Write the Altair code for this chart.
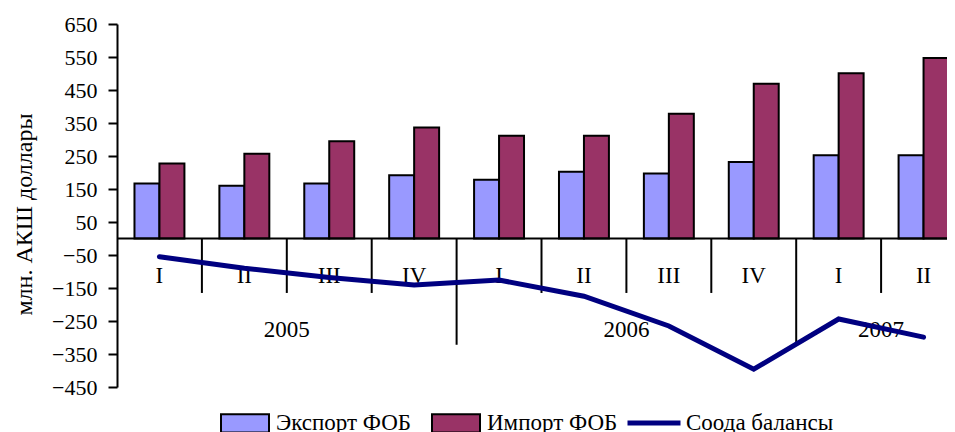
import altair as alt
import pandas as pd

# ---- data ----
quarters = ["I", "II", "III", "IV", "I", "II", "III", "IV", "I", "II"]
years = ["2005", "2005", "2005", "2005", "2006", "2006", "2006", "2006", "2007", "2007"]
export_fob = [167, 160, 167, 192, 178, 202, 197, 232, 252, 252]
import_fob = [227, 257, 295, 336, 311, 311, 378, 469, 501, 547]
balance = [-55, -90, -118, -141, -126, -175, -265, -396, -244, -299]
y_ticks = [-450, -350, -250, -150, -50, 50, 150, 250, 350, 450, 550, 650]
series_names = ["Экспорт ФОБ", "Импорт ФОБ"]
line_name = "Соода балансы"
year_labels = ["2005", "2006", "2007"]
year_anchor_idx = [2, 6, 9]          # label centred on the left edge of this quarter
short_div_idx = [1, 2, 3, 5, 6, 7, 9]
long_div_idx = [4, 8]

FONT = "Liberation Serif"
keys = [f"{y}-{q}-{i}" for i, (y, q) in enumerate(zip(years, quarters))]

bars_df = pd.DataFrame(
    [{"key": k, "series": series_names[0], "value": v} for k, v in zip(keys, export_fob)]
    + [{"key": k, "series": series_names[1], "value": v} for k, v in zip(keys, import_fob)]
)
line_df = pd.DataFrame({"key": keys, "value": balance, "series": [line_name] * len(keys)})
qlab_df = pd.DataFrame({"key": keys, "label": quarters, "value": [-114] * len(keys)})
ylab_df = pd.DataFrame({"key": [keys[i] for i in year_anchor_idx], "label": year_labels,
                        "value": [-276] * len(year_labels)})
div_df = pd.DataFrame(
    [{"key": keys[i], "value": 0, "bottom": -165} for i in short_div_idx]
    + [{"key": keys[i], "value": 0, "bottom": -322} for i in long_div_idx]
)
zero_df = pd.DataFrame({"value": [0]})

x_scale = alt.Scale(domain=keys, range=[0, 849], paddingInner=0, paddingOuter=0)
y_scale = alt.Scale(domain=[-450, 650], nice=False, zero=False)
y_axis = alt.Axis(
    values=y_ticks, grid=False, title="млн. АКШ доллары",
    labelFont=FONT, labelFontSize=22, labelColor="black", labelPadding=11,
    tickSize=9, tickWidth=2, tickColor="black", domainColor="black", domainWidth=2,
    titleFont=FONT, titleFontSize=24, titleFontWeight="normal", titleColor="black",
    titleX=-93, titleY=190, titleAngle=270, titleAlign="center", titleBaseline="middle",
)


def xk(**kw):
    return alt.X("key:N", sort=keys, scale=x_scale, axis=None, **kw)


def yv():
    return alt.Y("value:Q", scale=y_scale, axis=y_axis)


bars = alt.Chart(bars_df).mark_bar(stroke="black", strokeWidth=2).encode(
    x=xk(),
    xOffset=alt.XOffset("series:N", sort=series_names,
                        scale=alt.Scale(domain=series_names, paddingInner=0, paddingOuter=0.7)),
    y=yv(),
    fill=alt.Fill(
        "series:N",
        scale=alt.Scale(domain=series_names, range=["#9999FF", "#993366"]),
        legend=alt.Legend(
            title=None, orient="none", legendX=103, legendY=374, direction="horizontal",
            symbolType="M-1,-0.38L1,-0.38L1,0.38L-1,0.38Z", symbolSize=2304,
            symbolStrokeColor="black", symbolStrokeWidth=2, symbolOpacity=1,
            labelFont=FONT, labelFontSize=23, labelColor="black", labelOffset=6,
            columnPadding=16, padding=0, labelLimit=400,
        ),
    ),
)

zero_rule = alt.Chart(zero_df).mark_rule(color="black", strokeWidth=2).encode(y=yv())

dividers = alt.Chart(div_df).mark_rule(color="black", strokeWidth=2).encode(
    x=xk(bandPosition=0),
    y=yv(),
    y2=alt.Y2("bottom:Q"),
)

qlabels = alt.Chart(qlab_df).mark_text(
    font=FONT, fontSize=23, color="black", align="center", baseline="middle"
).encode(x=xk(), y=yv(), text="label:N")

ylabels = alt.Chart(ylab_df).mark_text(
    font=FONT, fontSize=23, color="black", align="center", baseline="middle"
).encode(x=xk(bandPosition=0), y=yv(), text="label:N")

line = alt.Chart(line_df).mark_line(strokeWidth=5, strokeCap="round").encode(
    x=xk(),
    y=yv(),
    stroke=alt.Stroke(
        "series:N",
        scale=alt.Scale(domain=[line_name], range=["#000080"]),
        legend=alt.Legend(
            title=None, orient="none", legendX=508, legendY=370, direction="horizontal",
            symbolType="stroke", symbolSize=2809, symbolStrokeWidth=5,
            labelFont=FONT, labelFontSize=23, labelColor="black", labelOffset=3,
            padding=0, labelLimit=400,
        ),
    ),
)

chart = (
    alt.layer(bars, zero_rule, dividers, qlabels, ylabels, line)
    .resolve_scale(fill="independent", stroke="independent")
    .properties(
        width=830, height=363,
        autosize=alt.AutoSizeParams(type="none"),
        padding={"left": 109, "top": 16, "right": 0, "bottom": 45},
    )
    .configure_view(strokeWidth=0)
)

chart.save("out.html", embed_options={"renderer": "svg", "actions": False})
